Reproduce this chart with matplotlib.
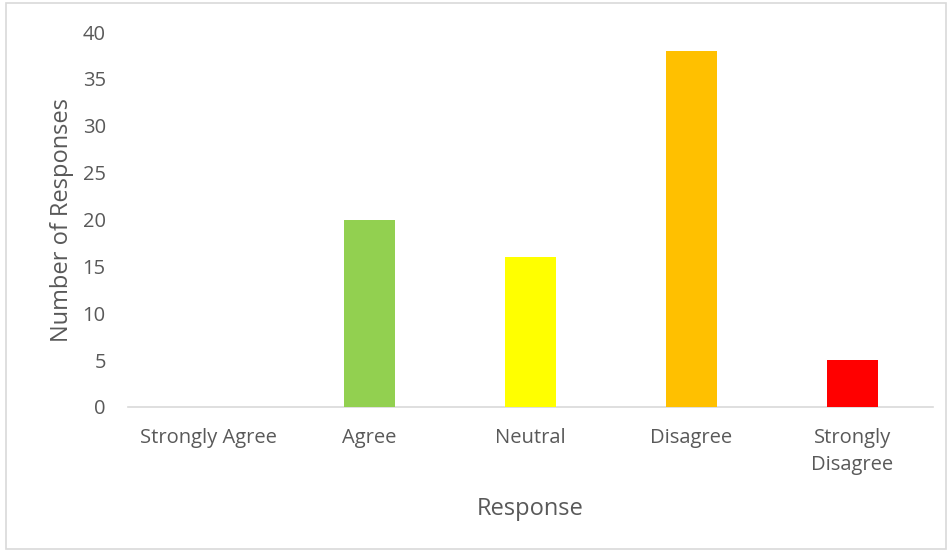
import matplotlib
matplotlib.use("Agg")
import matplotlib.pyplot as plt
from matplotlib.patches import Rectangle

categories = ["Strongly Agree", "Agree", "Neutral", "Disagree", "Strongly\nDisagree"]
values = [0, 20, 16, 38, 5]
colors = ["#92D050", "#92D050", "#FFFF00", "#FFC000", "#FF0000"]
yticks = [0, 5, 10, 15, 20, 25, 30, 35, 40]

plt.rcParams['font.family'] = ['Open Sans', 'DejaVu Sans']
txt = "#595959"

fig = plt.figure(figsize=(9.52, 5.52), dpi=100)
ax = fig.add_axes([128/952, 1-407/552, (933-128)/952, (407-32)/552])

x = list(range(len(categories)))
ax.bar(x, values, width=0.32, color=colors, zorder=3)
ax.set_xlim(-0.5, len(categories)-0.5)
ax.set_ylim(0, 40)
ax.set_yticks(yticks)
ax.set_xticks(x)
ax.set_xticklabels(categories, fontsize=14.5, color=txt, linespacing=1.45)
ax.tick_params(axis='y', labelsize=14.5, labelcolor=txt, length=0, pad=16)
ax.tick_params(axis='x', length=0, pad=15)
for s in ['top', 'right', 'left']:
    ax.spines[s].set_visible(False)
ax.spines['bottom'].set_color("#D9D9D9")
ax.spines['bottom'].set_linewidth(1.2)
ax.set_xlabel("Response", fontsize=17, color=txt, labelpad=16)
ax.set_ylabel("Number of Responses", fontsize=17, color=txt, labelpad=6)

fig.patches.append(Rectangle((6/952, 3/552), 940/952, 546/552, transform=fig.transFigure,
                             fill=False, edgecolor="#D9D9D9", linewidth=1.2))

fig.savefig("out.png", dpi=100)
